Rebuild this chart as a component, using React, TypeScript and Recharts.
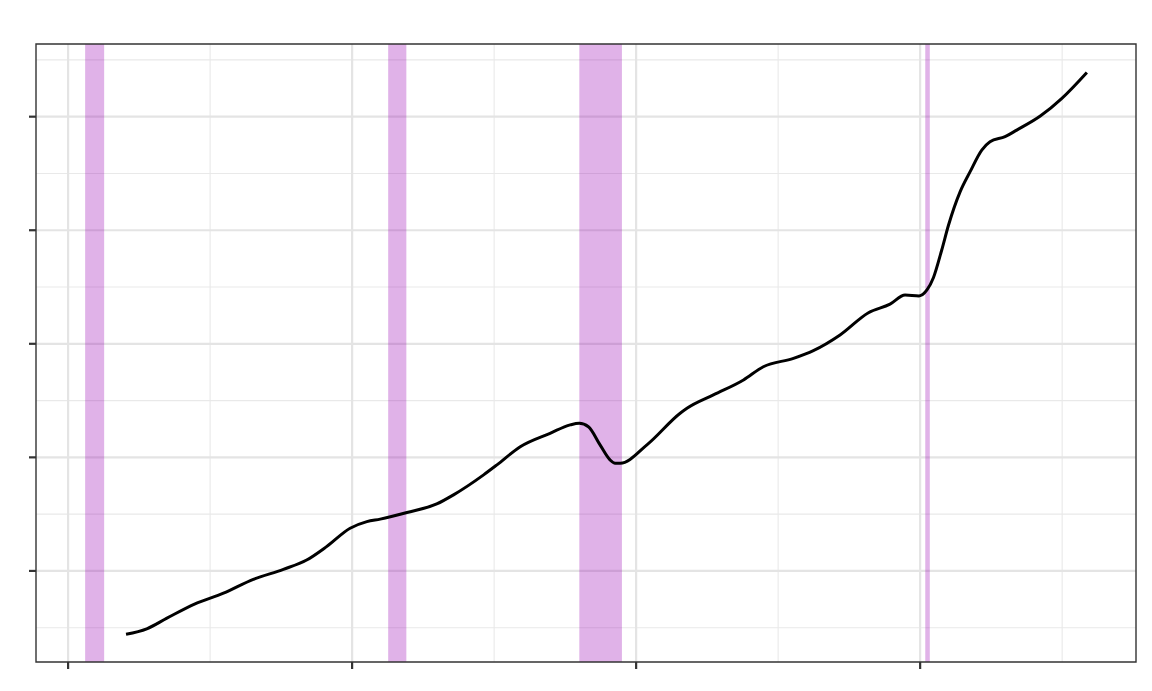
import React from "react";
import {
  LineChart,
  Line,
  XAxis,
  YAxis,
  ReferenceArea,
  ReferenceLine,
} from "recharts";

// dates as decimal years
const dates = [
  1992.04, 1992.77, 1993.48, 1994.47, 1995.47, 1996.52, 1997.58, 1998.4, 1999.1, 1999.93,
  2000.52, 2000.99, 2001.93, 2002.98, 2003.57, 2004.63, 2005.1, 2005.92, 2006.97, 2007.68,
  2008.0, 2008.32, 2008.73, 2009.08, 2009.26, 2009.44, 2010.38, 2011.55, 2011.79, 2012.72,
  2013.78, 2014.48, 2015.54, 2016.24, 2017.18, 2018.18, 2018.94, 2019.47, 2019.96, 2020.24,
  2020.47, 2020.76, 2021.0, 2021.41, 2021.76, 2022.17, 2022.46, 2022.99, 2023.4, 2024.23,
  2024.99, 2025.87,
];
const values = [
  2.21, 2.45, 2.92, 3.55, 4.02, 4.63, 5.07, 5.48, 6.07, 6.88,
  7.17, 7.28, 7.57, 7.95, 8.35, 9.23, 9.67, 10.47, 11.06, 11.43,
  11.5, 11.35, 10.55, 9.89, 9.74, 9.74, 10.55, 11.94, 12.16, 12.75,
  13.41, 13.99, 14.36, 14.7, 15.39, 16.37, 16.75, 17.15, 17.11, 17.37,
  17.92, 19.13, 20.23, 21.7, 22.58, 23.53, 23.9, 24.12, 24.41, 25.03,
  25.81, 26.95,
];

const recessionStart = [1990.6, 2001.27, 2008.0, 2020.18];
const recessionEnd = [1991.27, 2001.91, 2009.5, 2020.34];

const xMajor = [1990, 2000, 2010, 2020];
const xMinor = [1995, 2005, 2015, 2025];
const yMajor = [5, 10, 15, 20, 25];
const yMinor = [2.5, 7.5, 12.5, 17.5, 22.5, 27.5];

const xDomain = [1988.87, 2027.6];
const yDomain = [0.99, 28.2];

const chartData = dates.map((d, i) => ({ date: d, value: values[i] }));

const majorGrid = "#e4e4e4";
const minorGrid = "#e9e9e9";
const axisColor = "#333333";

export default function App(): React.ReactElement {
  return (
    <div>
      <style>{"body{margin:0}"}</style>
      <LineChart
        width={1152}
        height={691}
        data={chartData}
        margin={{ top: 44, right: 16, left: 0, bottom: 0 }}
      >
        <XAxis
          dataKey="date"
          type="number"
          domain={xDomain}
          ticks={xMajor}
          allowDataOverflow
          height={29}
          axisLine={false}
          tickLine={{ stroke: axisColor, strokeWidth: 2.2 }}
          tickSize={7}
          tick={() => <g />}
        />
        <YAxis
          type="number"
          domain={yDomain}
          ticks={yMajor}
          allowDataOverflow
          width={36}
          axisLine={false}
          tickLine={{ stroke: axisColor, strokeWidth: 2.2 }}
          tickSize={7}
          tick={() => <g />}
        />
        {yMinor.map((v) => (
          <ReferenceLine key={"ym" + v} y={v} stroke={minorGrid} strokeWidth={1.1} zIndex={-100} />
        ))}
        {xMinor.map((v) => (
          <ReferenceLine key={"xm" + v} x={v} stroke={minorGrid} strokeWidth={1.1} zIndex={-100} />
        ))}
        {yMajor.map((v) => (
          <ReferenceLine key={"yM" + v} y={v} stroke={majorGrid} strokeWidth={2.2} zIndex={-100} />
        ))}
        {xMajor.map((v) => (
          <ReferenceLine key={"xM" + v} x={v} stroke={majorGrid} strokeWidth={2.2} zIndex={-100} />
        ))}
        {recessionStart.map((s, i) => (
          <ReferenceArea
            key={"rec" + i}
            x1={s}
            x2={recessionEnd[i]}
            fill="#9900b2"
            fillOpacity={0.3}
            stroke="none"
          />
        ))}
        <Line
          type="monotone"
          dataKey="value"
          stroke="#000000"
          strokeWidth={3}
          dot={false}
          isAnimationActive={false}
        />
        <ReferenceArea
          x1={xDomain[0]}
          x2={xDomain[1]}
          y1={yDomain[0]}
          y2={yDomain[1]}
          fill="none"
          stroke={axisColor}
          strokeWidth={1.4}
          ifOverflow="visible"
          zIndex={1000}
        />
      </LineChart>
    </div>
  );
}
